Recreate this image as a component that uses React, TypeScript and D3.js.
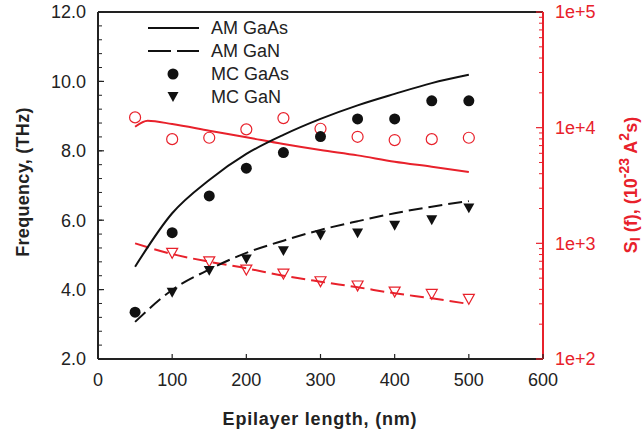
import React from "react";
import * as d3 from "d3";

const W = 643, H = 434;
const lengths = [50, 100, 150, 200, 250, 300, 350, 400, 450, 500];
const lengthsGaN = [100, 150, 200, 250, 300, 350, 400, 450, 500];
const amGaAs = [4.66, 6.2, 7.16, 7.91, 8.46, 8.92, 9.31, 9.64, 9.95, 10.19];
const amGaN = [3.07, 3.99, 4.58, 5.06, 5.41, 5.72, 5.97, 6.2, 6.39, 6.55];
const mcGaAs = [3.35, 5.64, 6.7, 7.5, 7.95, 8.41, 8.92, 8.92, 9.44, 9.44];
const mcGaN = [3.91, 4.54, 4.87, 5.11, 5.56, 5.62, 5.84, 6.0, 6.34];
const noiseAmGaAsX = [50, 67, 100, 150, 200, 250, 300, 350, 400, 450, 500];
const noiseAmGaAs = [10180, 11480, 10740, 9400, 8250, 7210, 6400, 5760, 5070, 4590, 4130];
const noiseAmGaN = [1000, 808, 693, 608, 525, 466, 417, 370, 335, 299];
const noiseMcGaAs = [12270, 7960, 8180, 9670, 12100, 9790, 8340, 7810, 7960, 8180];
const noiseMcGaN = [819, 693, 588, 543, 466, 428, 379, 362, 328];
const xTicks = [0, 100, 200, 300, 400, 500, 600];
const yTicks = [2, 4, 6, 8, 10, 12];
const rTicks = [1e2, 1e3, 1e4, 1e5];
const rLabels = ["1e+2", "1e+3", "1e+4", "1e+5"];
const legendItems = ["AM GaAs", "AM GaN", "MC GaAs", "MC GaN"];

const RED = "#e8212b";
const FONT = "'Liberation Sans', Arial, sans-serif";

export default function App() {
  const L = 98, R = 543, T = 12, B = 359;
  const x = d3.scaleLinear().domain([0, 600]).range([L, R]);
  const y = d3.scaleLinear().domain([2, 12]).range([B, T]);
  const yr = d3.scaleLog().domain([1e2, 1e5]).range([B, T]);

  const line = (xs: number[], ys: number[], sy: (v: number) => number) =>
    d3.line<number>().x((_, i) => x(xs[i])).y((v) => sy(v)).curve(d3.curveMonotoneX)(ys) || "";

  const tri = (cx: number, cy: number, s = 11) => {
    const h = s * 0.9;
    return `M${cx - s / 2},${cy - h / 2}L${cx + s / 2},${cy - h / 2}L${cx},${cy + h / 2}Z`;
  };

  const minorLeft = d3.range(2, 12.001, 0.4);
  const minorRight: number[] = [];
  for (let e = 2; e < 5; e++) for (let m = 2; m <= 9; m++) minorRight.push(m * Math.pow(10, e));

  return (
    <svg width={W} height={H} style={{ position: "absolute", left: 0, top: 0 }} fontFamily={FONT}>
      <rect width={W} height={H} fill="#fff" />
      {/* frame */}
      <line x1={L} x2={R} y1={T} y2={T} stroke="#222" strokeWidth={2} />
      <line x1={L} x2={R} y1={B} y2={B} stroke="#222" strokeWidth={2} />
      <line x1={L} x2={L} y1={T} y2={B} stroke="#222" strokeWidth={2} />
      <line x1={R} x2={R} y1={T} y2={B} stroke={RED} strokeWidth={2} />
      {/* left ticks */}
      {minorLeft.map((v, i) => (
        <line key={"lm" + i} x1={L} x2={L + 4} y1={y(v)} y2={y(v)} stroke="#222" strokeWidth={1} />
      ))}
      {yTicks.map((v) => (
        <g key={"lt" + v}>
          <line x1={L} x2={L + 6} y1={y(v)} y2={y(v)} stroke="#222" strokeWidth={1.2} />
          <text x={86} y={y(v)} dy="0.35em" textAnchor="end" fontSize={18} fill="#222">
            {v.toFixed(1)}
          </text>
        </g>
      ))}
      {/* bottom ticks */}
      {xTicks.map((v) => (
        <g key={"xt" + v}>
          <line x1={x(v)} x2={x(v)} y1={B} y2={B - 5} stroke="#222" strokeWidth={1.2} />
          <text x={x(v)} y={386} textAnchor="middle" fontSize={18} fill="#222">
            {v}
          </text>
        </g>
      ))}
      {/* right ticks */}
      {minorRight.map((v, i) => (
        <line key={"rm" + i} x1={R} x2={R - 4} y1={yr(v)} y2={yr(v)} stroke={RED} strokeWidth={1} />
      ))}
      {rTicks.map((v, i) => (
        <g key={"rt" + v}>
          <line x1={R} x2={R - 7} y1={yr(v)} y2={yr(v)} stroke={RED} strokeWidth={1.2} />
          <text x={555} y={yr(v)} dy="0.35em" fontSize={18} fill={RED}>
            {rLabels[i]}
          </text>
        </g>
      ))}
      {/* axis titles */}
      <text
        transform={`translate(29,182) rotate(-90)`}
        textAnchor="middle"
        fontSize={18}
        fontWeight="bold"
        fill="#222"
        letterSpacing={0.3}
      >
        Frequency, (THz)
      </text>
      <text x={320} y={425} textAnchor="middle" fontSize={18} fontWeight="bold" fill="#222" letterSpacing={0.8}>
        Epilayer length, (nm)
      </text>
      <text
        transform={`translate(637,185) rotate(-90)`}
        textAnchor="middle"
        fontSize={18}
        fontWeight="bold"
        fill={RED}
      >
        <tspan>S</tspan>
        <tspan fontSize={14} dy={3}>I</tspan>
        <tspan dy={-3}> (f), (10</tspan>
        <tspan fontSize={14} dy={-8}>-23</tspan>
        <tspan dy={8}> A</tspan>
        <tspan fontSize={14} dy={-8}>2</tspan>
        <tspan dy={8}>s)</tspan>
      </text>

      {/* red lines */}
      <path d={line(noiseAmGaAsX, noiseAmGaAs, yr)} fill="none" stroke={RED} strokeWidth={2} />
      <path d={line(lengths, noiseAmGaN, yr)} fill="none" stroke={RED} strokeWidth={2} strokeDasharray="14,6" />
      {/* black lines */}
      <path d={line(lengths, amGaAs, y)} fill="none" stroke="#111" strokeWidth={2} />
      <path d={line(lengths, amGaN, y)} fill="none" stroke="#111" strokeWidth={2} strokeDasharray="14,6" />

      {/* red markers */}
      {noiseMcGaAs.map((v, i) => (
        <circle key={"rc" + i} cx={x(lengths[i])} cy={yr(v)} r={5.5} fill="none" stroke={RED} strokeWidth={1.2} />
      ))}
      {noiseMcGaN.map((v, i) => (
        <path key={"rtri" + i} d={tri(x(lengthsGaN[i]), yr(v))} fill="none" stroke={RED} strokeWidth={1.2} />
      ))}
      {/* black markers */}
      {mcGaAs.map((v, i) => (
        <circle key={"bc" + i} cx={x(lengths[i])} cy={y(v)} r={5.5} fill="#111" />
      ))}
      {mcGaN.map((v, i) => (
        <path key={"bt" + i} d={tri(x(lengthsGaN[i]), y(v))} fill="#111" />
      ))}

      {/* legend */}
      <line x1={148} x2={199} y1={28} y2={28} stroke="#111" strokeWidth={2} />
      <line x1={148} x2={199} y1={51} y2={51} stroke="#111" strokeWidth={2} strokeDasharray="23,6" />
      <circle cx={173} cy={74} r={5.5} fill="#111" />
      <path d={tri(173, 97)} fill="#111" />
      {legendItems.map((t, i) => (
        <text key={t} x={211} y={[28, 51, 74, 97][i]} dy="0.35em" fontSize={18} fill="#222">
          {t}
        </text>
      ))}
    </svg>
  );
}
